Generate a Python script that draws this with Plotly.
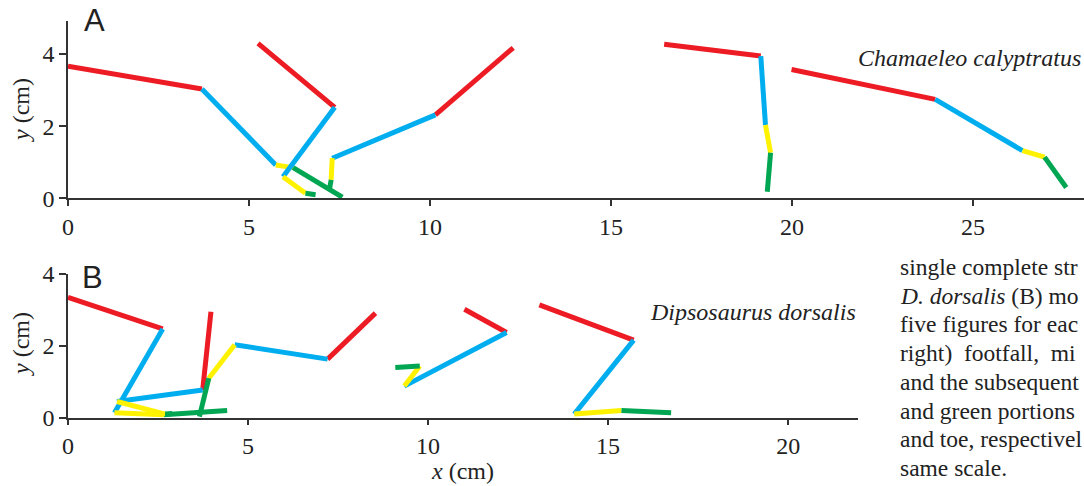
import plotly.graph_objects as go

# ---------------- data (cm) : points ordered hip -> knee -> ankle -> MTP -> toe tip
seg_colors = ["#ED1C24", "#00AEEF", "#FFF200", "#00A651"]  # red, blue, yellow, green

# Panel A: Chamaeleo calyptratus
A1_x = [0.00, 3.70, 5.74, 6.22, 7.58]
A1_y = [3.66, 3.03, 0.92, 0.85, 0.03]
A2_x = [5.25, 7.37, 5.94, 6.56, 6.84]
A2_y = [4.29, 2.52, 0.60, 0.14, 0.10]
A3_x = [12.30, 10.15, 7.30, 7.27, 7.23]
A3_y = [4.17, 2.31, 1.11, 0.51, 0.28]
A4_x = [16.47, 19.14, 19.27, 19.41, 19.32]
A4_y = [4.27, 3.94, 2.03, 1.26, 0.18]
A5_x = [19.99, 23.96, 26.37, 26.98, 27.58]
A5_y = [3.57, 2.74, 1.32, 1.14, 0.30]

# Panel B: Dipsosaurus dorsalis
B1_x = [0.00, 2.63, 1.29, 2.66, 4.42]
B1_y = [3.35, 2.47, 0.14, 0.08, 0.20]
B2_x = [3.97, 3.74, 1.36, 2.70, 2.90]
B2_y = [2.95, 0.77, 0.45, 0.10, 0.12]
B3_x = [8.54, 7.21, 4.63, 3.91, 3.65]
B3_y = [2.91, 1.63, 2.03, 1.10, 0.03]
B4_x = [11.01, 12.18, 9.34, 9.77, 9.09]
B4_y = [3.02, 2.37, 0.88, 1.44, 1.40]
B5_x = [13.09, 15.71, 14.06, 15.37, 16.75]
B5_y = [3.14, 2.16, 0.10, 0.20, 0.14]

A_ticks = [0, 5, 10, 15, 20, 25]
B_ticks = [0, 5, 10, 15, 20]
Y_ticks = [0, 2, 4]

caption_lines = [
    "single complete str",
    "<i>D. dorsalis</i> (B) mo",
    "five figures for eac",
    "right)\u00a0 footfall,\u00a0 mi",
    "and the subsequent",
    "and green portions",
    "and toe, respectivel",
    "same scale.",
]

# ---------------- figure
W, H, L = 1084, 486, 68
PW = W - L

def px(x):
    return (x - L) / PW

def py(y):
    return 1 - y / H

fig = go.Figure()

def add_limb(xs, ys, xa, ya):
    for i in range(len(xs) - 1):
        fig.add_trace(go.Scatter(
            x=[xs[i], xs[i + 1]], y=[ys[i], ys[i + 1]], mode="lines",
            line=dict(color=seg_colors[i], width=5),
            xaxis=xa, yaxis=ya, showlegend=False, hoverinfo="skip"))

for xs, ys in [(A1_x, A1_y), (A2_x, A2_y), (A3_x, A3_y), (A4_x, A4_y), (A5_x, A5_y)]:
    add_limb(xs, ys, "x", "y")
for xs, ys in [(B1_x, B1_y), (B2_x, B2_y), (B3_x, B3_y), (B4_x, B4_y), (B5_x, B5_y)]:
    add_limb(xs, ys, "x2", "y2")

serif = "Liberation Serif"
axcol = "#333333"
tickfont = dict(family=serif, size=24, color="#222222")

common_x = dict(showgrid=False, zeroline=False, showline=True, linecolor=axcol, linewidth=1.5,
                ticks="outside", ticklen=6, tickwidth=1.5, tickcolor=axcol, tickfont=tickfont,
                fixedrange=True, automargin=False)
common_y = dict(showgrid=False, zeroline=False, showline=True, linecolor=axcol, linewidth=1.5,
                ticks="outside", ticklen=7, tickwidth=1.5, tickcolor=axcol, tickfont=tickfont,
                tickvals=Y_ticks, fixedrange=True, automargin=False)

fig.update_layout(
    width=W, height=H,
    margin=dict(l=L, r=0, t=0, b=0, pad=0),
    paper_bgcolor="white", plot_bgcolor="white",
    xaxis=dict(domain=[0, 1], range=[0, 28.07], tickvals=A_ticks, anchor="y", **common_x),
    yaxis=dict(domain=[py(198.3), py(20.7)], range=[0, 4.92], anchor="x", **common_y),
    xaxis2=dict(domain=[0, px(858)], range=[0, 21.94], tickvals=B_ticks, anchor="y2", **common_x),
    yaxis2=dict(domain=[py(417.7), py(274)], range=[0, 4.0], anchor="x2", **common_y),
)

ann = []
def add_text(text, x, y, size, family=serif, xanchor="center", angle=0, color="#222222"):
    ann.append(dict(text=text, x=px(x), y=py(y), xref="paper", yref="paper",
                    xanchor=xanchor, yanchor="middle", showarrow=False, textangle=angle,
                    font=dict(family=family, size=size, color=color)))

add_text("A", 94, 21, 31, family="Liberation Sans")
add_text("B", 92, 277, 31, family="Liberation Sans")
add_text("<i>Chamaeleo calyptratus</i>", 1083, 58, 24, xanchor="right")
add_text("<i>Dipsosaurus dorsalis</i>", 858, 312, 24, xanchor="right")
add_text("<i>y</i> (cm)", 21, 110, 24, angle=-90)
add_text("<i>y</i> (cm)", 21, 344, 24, angle=-90)
add_text("<i>x</i> (cm)", 462, 471, 24)
for i, line in enumerate(caption_lines):
    add_text(line, 898, 267 + i * 28.7, 23.5, xanchor="left")

fig.update_layout(annotations=ann)
fig.write_html("out.html")
